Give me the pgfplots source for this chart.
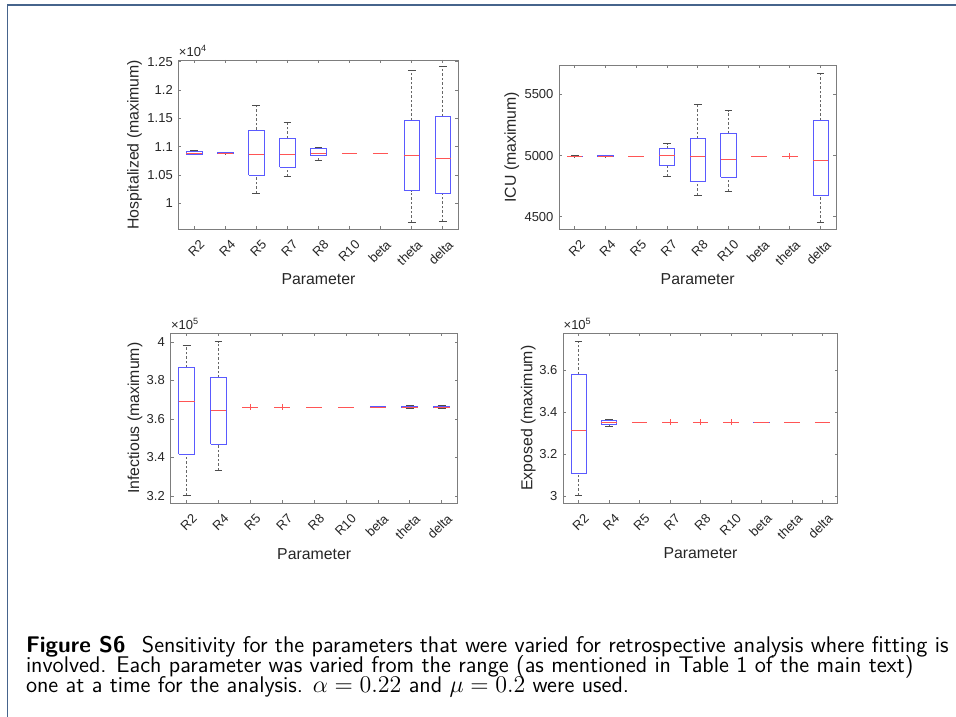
\documentclass[border=0pt]{standalone}
\usepackage{pgfplots}
\pgfplotsset{compat=1.18}
\usepackage{fontspec}
\newfontfamily\plotfont{Liberation Sans}

\definecolor{boxblue}{RGB}{90,90,255}
\definecolor{medred}{RGB}{255,85,85}
\definecolor{axgray}{RGB}{125,125,125}
\definecolor{txtgray}{RGB}{38,38,38}
\definecolor{framecol}{RGB}{70,100,140}

\newcommand\tickfont{\plotfont\fontsize{7.8pt}{9pt}\selectfont}
\newcommand\labfont{\plotfont\fontsize{9.5pt}{11pt}\selectfont}

\pgfplotsset{
  panel/.style={
    scale only axis, anchor=south west, clip=false,
    xmin=0.5, xmax=9.5,
    xtick={1,2,3,4,5,6,7,8,9},
    xticklabels={R2,R4,R5,R7,R8,R10,beta,theta,delta},
    xticklabel style={rotate=45, anchor=east, inner sep=1.5pt, xshift=-0.6pt, yshift=-9pt},
    tick align=inside, major tick length=1.7pt,
    axis line style={axgray, line width=0.5pt},
    tick style={axgray, line width=0.5pt},
    tick label style={font=\tickfont, text=txtgray},
    label style={font=\labfont, text=txtgray},
    /pgf/number format/assume math mode=true,
    scaled y ticks=false,
    xlabel={Parameter},
  },
  bxs/.style={boxblue, line width=0.5pt},
  med/.style={medred, line width=0.5pt},
  wsk/.style={black!60, line width=0.5pt, dash pattern=on 1.5pt off 1.2pt},
  cap/.style={black!70, line width=0.5pt},
  outl/.style={only marks, mark=+, medred, mark size=1.9pt, line width=0.5pt},
}

% box: position, lower whisker, lower quartile, median, upper quartile, upper whisker
\newcommand\bx[6]{%
  \pgfmathsetmacro\boxl{#1-0.25}%
  \pgfmathsetmacro\boxr{#1+0.25}%
  \pgfmathsetmacro\capl{#1-0.125}%
  \pgfmathsetmacro\capr{#1+0.125}%
  \edef\doplots{%
    \noexpand\addplot[wsk] coordinates {(#1,#2) (#1,#3)};
    \noexpand\addplot[wsk] coordinates {(#1,#5) (#1,#6)};
    \noexpand\addplot[cap] coordinates {(\capl,#2) (\capr,#2)};
    \noexpand\addplot[cap] coordinates {(\capl,#6) (\capr,#6)};
    \noexpand\addplot[bxs] coordinates {(\boxl,#3) (\boxr,#3) (\boxr,#5) (\boxl,#5) (\boxl,#3)};
    \noexpand\addplot[med] coordinates {(\boxl,#4) (\boxr,#4)};
  }\doplots}
% flat box (all values equal): position, value
\newcommand\fl[2]{%
  \pgfmathsetmacro\boxl{#1-0.25}%
  \pgfmathsetmacro\boxr{#1+0.25}%
  \edef\doplots{\noexpand\addplot[med] coordinates {(\boxl,#2) (\boxr,#2)};}\doplots}

\begin{document}
\begin{tikzpicture}
\path[use as bounding box] (0,0) rectangle (573.6pt,430.2pt);
\draw[framecol, line width=0.9pt] (4.4pt,0) -- (4.4pt,427.2pt) -- (573.6pt,427.2pt);

% Hospitalized (x 10^4)
\begin{axis}[panel, at={(107.2pt,292.6pt)}, width=167.8pt, height=101.6pt,
  ymin=0.9541, ymax=1.2529,
  ytick={1,1.05,1.1,1.15,1.2,1.25},
  yticklabels={1,1.05,1.1,1.15,1.2,1.25},
  ylabel={Hospitalized (maximum)},
  ylabel style={at={(axis description cs:-0.158,0.5)}, anchor=center},
  xlabel style={at={(axis description cs:0.5,-0.294)}, anchor=center},
]
\bx{1}{1.0859}{1.0866}{1.0877}{1.0924}{1.0942}
\bx{2}{1.0875}{1.0877}{1.0885}{1.0890}{1.0892}
\bx{3}{1.0176}{1.0495}{1.0871}{1.1295}{1.1730}
\bx{4}{1.0470}{1.0636}{1.0871}{1.1148}{1.1430}
\bx{5}{1.0764}{1.0841}{1.0889}{1.0960}{1.0995}
\fl{6}{1.0889}
\fl{7}{1.0889}
\bx{8}{0.9668}{1.0225}{1.0841}{1.1463}{1.2346}
\bx{9}{0.9674}{1.0166}{1.0800}{1.1540}{1.2417}
\node[anchor=south west, inner sep=0pt, font=\tickfont, text=txtgray] at (rel axis cs:0,1) [yshift=2pt] {×10\textsuperscript{4}};
\end{axis}

% ICU (values in thousands)
\begin{axis}[panel, at={(335.6pt,292.6pt)}, width=166.0pt, height=98.6pt,
  ymin=4.397, ymax=5.740,
  ytick={4.5,5,5.5},
  yticklabels={4500,5000,5500},
  ylabel={ICU (maximum)},
  ylabel style={at={(axis description cs:-0.172,0.5)}, anchor=center},
  xlabel style={at={(axis description cs:0.5,-0.302)}, anchor=center},
]
\bx{1}{4.989}{4.990}{4.993}{4.996}{4.997}
\bx{2}{4.990}{4.991}{4.994}{4.997}{4.998}
\fl{3}{4.993}
\bx{4}{4.827}{4.917}{5.004}{5.059}{5.097}
\bx{5}{4.674}{4.792}{4.993}{5.138}{5.416}
\bx{6}{4.710}{4.822}{4.969}{5.179}{5.367}
\fl{7}{4.993}
\fl{8}{4.993}
\bx{9}{4.454}{4.674}{4.958}{5.288}{5.672}
\addplot[outl] coordinates {(8,4.994)};
\end{axis}

% Infectious (x 10^5)
\begin{axis}[panel, at={(102.4pt,128.2pt)}, width=172.2pt, height=102.0pt,
  ymin=3.162, ymax=4.045,
  ytick={3.2,3.4,3.6,3.8,4},
  yticklabels={3.2,3.4,3.6,3.8,4},
  ylabel={Infectious (maximum)},
  ylabel style={at={(axis description cs:-0.124,0.5)}, anchor=center},
  xlabel style={at={(axis description cs:0.5,-0.298)}, anchor=center},
]
\bx{1}{3.204}{3.417}{3.692}{3.866}{3.984}
\bx{2}{3.334}{3.470}{3.643}{3.814}{4.002}
\fl{3}{3.662}
\fl{4}{3.662}
\fl{5}{3.662}
\fl{6}{3.662}
\bx{7}{3.660}{3.661}{3.662}{3.663}{3.664}
\bx{8}{3.656}{3.658}{3.662}{3.666}{3.668}
\bx{9}{3.656}{3.658}{3.662}{3.666}{3.668}
\addplot[outl] coordinates {(3,3.662) (4,3.662)};
\node[anchor=south west, inner sep=0pt, font=\tickfont, text=txtgray] at (rel axis cs:0,1) [yshift=2pt] {×10\textsuperscript{5}};
\end{axis}

% Exposed (x 10^5)
\begin{axis}[panel, at={(338.0pt,128.4pt)}, width=164.6pt, height=101.8pt,
  ymin=2.9666, ymax=3.7766,
  ytick={3,3.2,3.4,3.6},
  yticklabels={3,3.2,3.4,3.6},
  ylabel={Exposed (maximum)},
  ylabel style={at={(axis description cs:-0.128,0.5)}, anchor=center},
  xlabel style={at={(axis description cs:0.5,-0.298)}, anchor=center},
]
\bx{1}{3.003}{3.1095}{3.311}{3.581}{3.736}
\bx{2}{3.333}{3.343}{3.352}{3.360}{3.367}
\fl{3}{3.352}
\fl{4}{3.352}
\fl{5}{3.352}
\fl{6}{3.352}
\bx{7}{3.351}{3.3515}{3.352}{3.3525}{3.353}
\fl{8}{3.352}
\fl{9}{3.352}
\addplot[outl] coordinates {(4,3.352) (5,3.352) (6,3.352)};
\node[anchor=south west, inner sep=0pt, font=\tickfont, text=txtgray] at (rel axis cs:0,1) [yshift=2pt] {×10\textsuperscript{5}};
\end{axis}

% caption
\begin{scope}[every node/.style={anchor=base west, inner sep=0pt, font=\sffamily\fontsize{13.6pt}{16pt}\selectfont}]
\node at (15.4pt,38.4pt) {\textbf{Figure S6}\hspace{0.4em} Sensitivity for the parameters that were varied for retrospective analysis where fitting is};
\node at (15.4pt,26.4pt) {involved. Each parameter was varied from the range (as mentioned in Table 1 of the main text)};
\node at (15.4pt,14.4pt) {one at a time for the analysis. $\alpha=0.22$ and $\mu=0.2$ were used.};
\end{scope}
\end{tikzpicture}
\end{document}
